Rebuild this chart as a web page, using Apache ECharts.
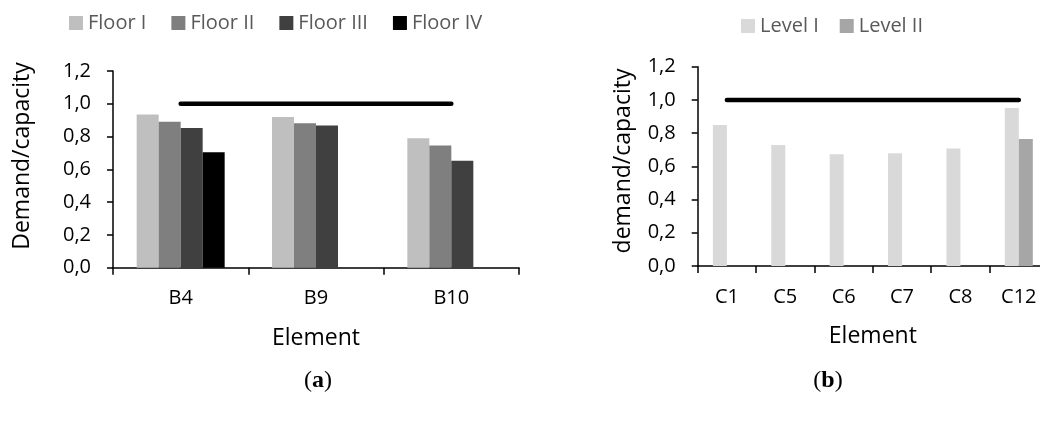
<!DOCTYPE html>
<html>
<head>
<meta charset="utf-8">
<script src="https://cdn.jsdelivr.net/npm/echarts@6/dist/echarts.min.js"></script>
<style>
  html, body { margin: 0; padding: 0; background: #fff; }
  #chart { width: 1040px; height: 423px; }
</style>
</head>
<body>
<div id="chart"></div>
<script>
// Panel (a): beams
const elementsA = ['B4', 'B9', 'B10'];
const floorNames = ['Floor I', 'Floor II', 'Floor III', 'Floor IV'];
const floorI = [0.935, 0.919, 0.789];
const floorII = [0.890, 0.882, 0.746];
const floorIII = [0.852, 0.868, 0.652];
const floorIV = [0.705, null, null];
const limitA = [1.0, 1.0, 1.0];

// Panel (b): columns
const elementsB = ['C1', 'C5', 'C6', 'C7', 'C8', 'C12'];
const levelNames = ['Level I', 'Level II'];
const levelI = [0.849, 0.729, 0.673, 0.679, 0.707, 0.952];
const levelII = [null, null, null, null, null, 0.765];
const limitB = [1.0, 1.0, 1.0, 1.0, 1.0, 1.0];

// Shared value-axis tick labels (decimal comma)
const yTickLabels = ['0,0', '0,2', '0,4', '0,6', '0,8', '1,0', '1,2'];

const FONT = '"Open Sans", "Noto Sans", sans-serif';
const SERIF = '"Liberation Serif", "DejaVu Serif", serif';
const floorColors = ['#bfbfbf', '#7f7f7f', '#404040', '#000000'];
const levelColors = ['#d9d9d9', '#a6a6a6'];

function catAxis(gridIndex, data) {
  return {
    type: 'category', gridIndex: gridIndex, data: data,
    boundaryGap: true,
    name: 'Element', nameLocation: 'middle', nameGap: 59,
    nameTextStyle: { fontFamily: FONT, fontSize: 23, color: '#000' },
    axisLine: { lineStyle: { color: '#000', width: 1.5 } },
    axisTick: { show: true, length: 7, interval: 0, alignWithLabel: false, lineStyle: { color: '#000', width: 1.5 } },
    axisLabel: { interval: 0, margin: 21, fontFamily: FONT, fontSize: 20, color: '#000' },
    splitLine: { show: false }
  };
}

function valAxis(gridIndex) {
  return {
    type: 'value', gridIndex: gridIndex, min: 0, max: 1.2, interval: 0.2,
    axisLine: { show: true, lineStyle: { color: '#000', width: 1.5 } },
    axisTick: { show: true, length: 6, lineStyle: { color: '#000', width: 1.5 } },
    axisLabel: {
      margin: 22, fontFamily: FONT, fontSize: 20, color: '#000',
      formatter: function (v) { return yTickLabels[Math.round(v / 0.2)]; }
    },
    splitLine: { show: false }
  };
}

function barSeries(name, data, color, axisIdx, width) {
  return {
    name: name, type: 'bar', xAxisIndex: axisIdx, yAxisIndex: axisIdx,
    data: data, barWidth: width, barGap: '0%',
    itemStyle: { color: color },
    silent: true
  };
}

function limitSeries(data, axisIdx) {
  return {
    name: 'limit', type: 'line', xAxisIndex: axisIdx, yAxisIndex: axisIdx,
    data: data, symbol: 'none', silent: true, z: 5,
    lineStyle: { color: '#000', width: 4.5, cap: 'round' }
  };
}

function panelTag(letter, x) {
  return {
    type: 'text', x: x, y: 381,
    style: {
      text: '{p|(}{l|' + letter + '}{p|)}', align: 'center', verticalAlign: 'middle',
      rich: {
        p: { fontFamily: SERIF, fontSize: 24, fill: '#000' },
        l: { fontFamily: SERIF, fontSize: 24, fontWeight: 'bold', fill: '#000' }
      }
    }
  };
}

const chart = echarts.init(document.getElementById('chart'), null, { renderer: 'canvas' });

const option = {
  backgroundColor: '#fff',
  animation: false,
  grid: [
    { left: 113, top: 71, width: 406, bottom: 155.3, outerBoundsMode: 'none', containLabel: false },
    { left: 697.7, top: 66.7, right: -8, bottom: 157, outerBoundsMode: 'none', containLabel: false }
  ],
  legend: [
    {
      data: floorNames, left: 64, top: 8, icon: 'rect',
      itemWidth: 14, itemHeight: 14, itemGap: 25, selectedMode: false,
      textStyle: { fontFamily: FONT, fontSize: 20, color: '#595959' }
    },
    {
      data: levelNames, left: 736, top: 11, icon: 'rect',
      itemWidth: 14, itemHeight: 14, itemGap: 21, selectedMode: false,
      textStyle: { fontFamily: FONT, fontSize: 20, color: '#595959' }
    }
  ],
  xAxis: [catAxis(0, elementsA), catAxis(1, elementsB)],
  yAxis: [valAxis(0), valAxis(1)],
  series: [
    barSeries(floorNames[0], floorI, floorColors[0], 0, 22),
    barSeries(floorNames[1], floorII, floorColors[1], 0, 22),
    barSeries(floorNames[2], floorIII, floorColors[2], 0, 22),
    barSeries(floorNames[3], floorIV, floorColors[3], 0, 22),
    limitSeries(limitA, 0),
    barSeries(levelNames[0], levelI, levelColors[0], 1, 14),
    barSeries(levelNames[1], levelII, levelColors[1], 1, 14),
    limitSeries(limitB, 1)
  ],
  graphic: [
    {
      type: 'text', x: 22, y: 156, rotation: Math.PI / 2,
      style: { text: 'Demand/capacity', fontFamily: FONT, fontSize: 23, fill: '#000', align: 'center', verticalAlign: 'middle' }
    },
    {
      type: 'text', x: 623, y: 161, rotation: Math.PI / 2,
      style: { text: 'demand/capacity', fontFamily: FONT, fontSize: 23, fill: '#000', align: 'center', verticalAlign: 'middle' }
    },
    panelTag('a', 318),
    panelTag('b', 828)
  ]
};

chart.setOption(option);
</script>
</body>
</html>
